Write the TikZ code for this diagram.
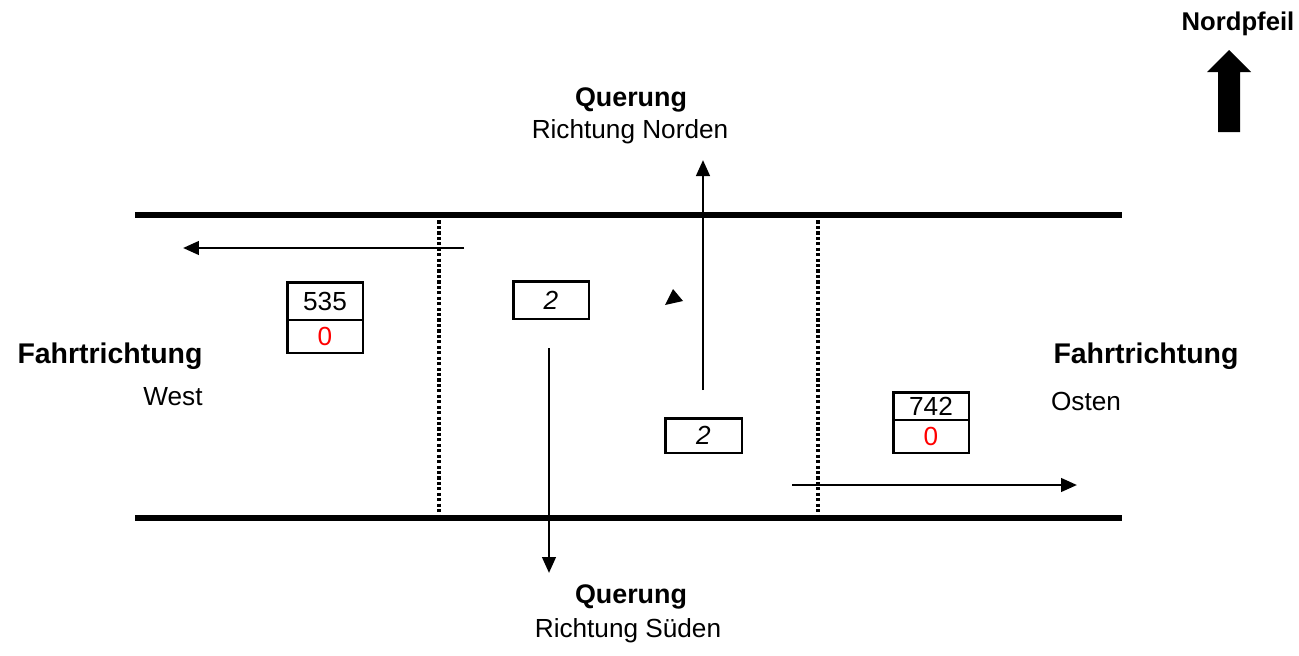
\documentclass[tikz,border=0pt]{standalone}
\usepackage{fontspec}
\setmainfont{Liberation Sans}
\usetikzlibrary{arrows.meta}

\begin{document}
\begin{tikzpicture}[x=0.02cm, y=-0.02cm,
    road/.style={
        line width=2.9pt
    },
    border/.style={
        line width=1.9pt,
        dash pattern=on 1.8pt off 1.3pt
    },
    flow/.style={
        line width=1.6pt,
        -{Triangle[length=0.32cm,width=0.27cm]}
    },
    cell/.style={
        draw,
        line width=1.7pt,
        minimum width=1.52cm,
        inner sep=0pt,
        outer sep=0pt,
        font=\fontsize{14.9}{18}\selectfont
    },
    zerocell/.style={
        cell,
        text=red
    },
    title/.style={
        font=\fontsize{16.2}{19}\selectfont\bfseries,
        anchor=base
    },
    subtitle/.style={
        font=\fontsize{14.9}{18}\selectfont,
        anchor=base
    }
]

\useasboundingbox (0,0) rectangle (1299,656);

%------------------------------------------------
% Fahrbahn
%------------------------------------------------
\draw[road] (135,215) -- (1122,215);
\draw[road] (135,518) -- (1122,518);

\foreach \xb in {439,818} {
    \draw[border] (\xb,215) -- (\xb,518);
}

%------------------------------------------------
% Zählboxen
%------------------------------------------------
\node[cell, minimum height=0.76cm] (westcount) at (325,301) {535};
\node[zerocell, minimum height=0.66cm, anchor=north] (westzero) at (westcount.south) {0};

\node[cell, minimum height=0.56cm] (eastcount) at (931,406) {742};
\node[zerocell, minimum height=0.66cm, anchor=north] (eastzero) at (eastcount.south) {0};

\node[cell, minimum height=0.76cm] (southcount) at (551,300) {\itshape 2};
\node[cell, minimum height=0.70cm, minimum width=1.54cm] (northcount) at (703.5,435.5) {\itshape 2};

%------------------------------------------------
% Pfeile
%------------------------------------------------
\coordinate (wstart) at (464,248);
\coordinate (wend)   at (183,248);
\coordinate (estart) at (792,485);
\coordinate (eend)   at (1077,485);
\coordinate (nstart) at (703,390);
\coordinate (nend)   at (703,160);
\coordinate (sstart) at (549,348);
\coordinate (send)   at (549,573);

\draw[flow] (wstart) -- (wend);
\draw[flow] (estart) -- (eend);
\draw[flow] (nstart) -- (nend);
\draw[flow] (sstart) -- (send);

% loses Dreieck
\fill (673,289) -- (665,305) -- (683,301) -- cycle;

%------------------------------------------------
% Beschriftung
%------------------------------------------------
\node[title, font=\fontsize{15.3}{18}\selectfont\bfseries] (qnorth) at (631,106) {Querung};
\node[subtitle] (rnorth) at (630,138) {Richtung Norden};
\node[title, font=\fontsize{15.3}{18}\selectfont\bfseries] (qsouth) at (631,603) {Querung};
\node[subtitle] (rsouth) at (628,637) {Richtung Süden};

\node[title] (fwest) at (110,363) {Fahrtrichtung};
\node[subtitle] (west) at (173,405) {West};
\node[title] (feast) at (1146,363) {Fahrtrichtung};
\node[subtitle] (east) at (1086,410) {Osten};

%------------------------------------------------
% Nordpfeil
%------------------------------------------------
\node[title, font=\fontsize{14.6}{17}\selectfont\bfseries] (npfeil) at (1238,30) {Nordpfeil};
\fill (1218,132) -- (1218,72) -- (1207,72) -- (1229,50)
      -- (1251,72) -- (1240,72) -- (1240,132) -- cycle;

\end{tikzpicture}
\end{document}
